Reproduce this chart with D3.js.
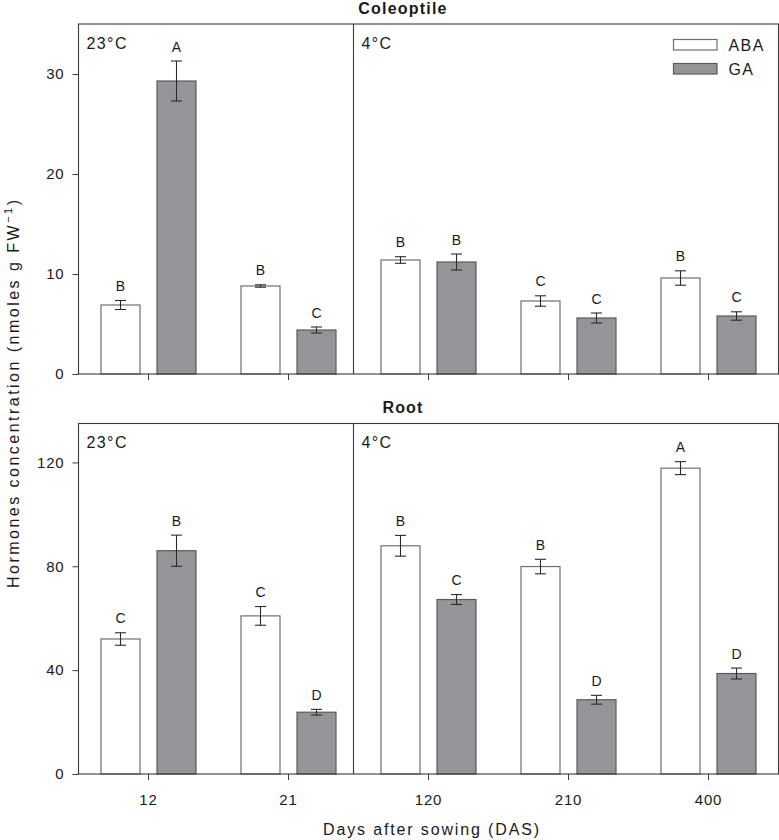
<!DOCTYPE html>
<html>
<head>
<meta charset="utf-8">
<script src="https://cdn.jsdelivr.net/npm/d3@7"></script>
<style>
  html, body { margin: 0; padding: 0; background: #fff; }
  svg { display: block; font-family: "Liberation Sans", Arial, sans-serif; }
</style>
</head>
<body>
<svg id="chart" width="779" height="840"></svg>
<script>
// ---------- data ----------
const categories = ["12", "21", "120", "210", "400"];
const seriesNames = ["ABA", "GA"];

const coleoptileABA    = [6.9, 8.8, 11.4, 7.3, 9.6];
const coleoptileABAerr = [0.45, 0.12, 0.33, 0.52, 0.72];
const coleoptileGA     = [29.3, 4.4, 11.2, 5.6, 5.8];
const coleoptileGAerr  = [2.0, 0.3, 0.8, 0.5, 0.42];
const coleoptileABAletters = ["B", "B", "B", "C", "B"];
const coleoptileGAletters  = ["A", "C", "B", "C", "C"];

const rootABA    = [52.0, 60.9, 87.9, 79.9, 117.8];
const rootABAerr = [2.4, 3.6, 4.0, 2.8, 2.5];
const rootGA     = [86.0, 23.8, 67.2, 28.6, 38.7];
const rootGAerr  = [6.0, 1.1, 1.9, 1.7, 2.1];
const rootABAletters = ["C", "C", "B", "B", "A"];
const rootGAletters  = ["B", "D", "C", "D", "D"];

const coleoptileTicks = [0, 10, 20, 30];
const rootTicks = [0, 40, 80, 120];
const tempLabels = ["23°C", "4°C"];

// ---------- layout ----------
const svg = d3.select("#chart");
const left = 78.5, right = 778.5;
const frameColor = "#3a3a3a";
const barStroke = "#6e6e6e";
const gaFill = "#939598";
const errColor = "#2a2a2a";

const x = d3.scaleBand().domain(categories).range([left, right]).padding(0);
const barW = 39, barOff = 28;
const dividerX = x("120") - 5;

function panel(cfg) {
  const y = d3.scaleLinear().domain(cfg.domain).range([cfg.bottom, cfg.top]);
  const g = svg.append("g");

  const rows = categories.map((c, i) => ({
    c,
    vals: [
      {s: "ABA", v: cfg.aba[i], e: cfg.abaErr[i], l: cfg.abaL[i], dx: -barOff},
      {s: "GA", v: cfg.ga[i], e: cfg.gaErr[i], l: cfg.gaL[i], dx: barOff}
    ]
  }));
  const flat = rows.flatMap(r => r.vals.map(v => Object.assign({c: r.c}, v)));
  const cx = d => x(d.c) + x.bandwidth() / 2 + d.dx;

  g.selectAll("rect.bar").data(flat).join("rect")
    .attr("class", "bar")
    .attr("x", d => cx(d) - barW / 2)
    .attr("y", d => y(d.v))
    .attr("width", barW)
    .attr("height", d => y(0) - y(d.v))
    .attr("fill", d => d.s === "ABA" ? "#ffffff" : gaFill)
    .attr("stroke", d => d.s === "ABA" ? barStroke : "#5a5a5a")
    .attr("stroke-width", 1.2);

  const eg = g.selectAll("g.err").data(flat).join("g").attr("class", "err")
    .attr("stroke", errColor).attr("stroke-width", 1.1);
  eg.append("line").attr("x1", cx).attr("x2", cx)
    .attr("y1", d => y(d.v + d.e)).attr("y2", d => y(d.v - d.e));
  eg.append("line").attr("x1", d => cx(d) - 5.5).attr("x2", d => cx(d) + 5.5)
    .attr("y1", d => y(d.v + d.e)).attr("y2", d => y(d.v + d.e));
  eg.append("line").attr("x1", d => cx(d) - 5.5).attr("x2", d => cx(d) + 5.5)
    .attr("y1", d => y(d.v - d.e)).attr("y2", d => y(d.v - d.e));

  g.selectAll("text.letter").data(flat).join("text")
    .attr("class", "letter")
    .attr("x", cx)
    .attr("y", d => y(d.v + d.e) - 9.5)
    .attr("text-anchor", "middle")
    .attr("font-size", 14)
    .attr("fill", "#1a1a1a")
    .text(d => d.l);

  g.append("rect").attr("x", left).attr("y", cfg.top)
    .attr("width", right - left).attr("height", cfg.bottom - cfg.top)
    .attr("fill", "none").attr("stroke", frameColor).attr("stroke-width", 1.1);
  g.append("line").attr("x1", dividerX).attr("x2", dividerX)
    .attr("y1", cfg.top).attr("y2", cfg.bottom)
    .attr("stroke", frameColor).attr("stroke-width", 1.1);

  const ya = d3.axisLeft(y).tickValues(cfg.ticks).tickSize(6).tickPadding(8).tickFormat(d3.format("d"));
  const yg = g.append("g").attr("transform", `translate(${left},0)`).call(ya);
  yg.select(".domain").remove();
  yg.selectAll("line").attr("stroke", frameColor);
  yg.selectAll("text").attr("font-size", 15).attr("font-family", "Liberation Sans, Arial, sans-serif")
    .attr("fill", "#1a1a1a").attr("letter-spacing", 0.8);

  const xa = d3.axisBottom(x).tickSize(6).tickPadding(14).tickFormat(cfg.showX ? (d => d) : (() => ""));
  const xg = g.append("g").attr("transform", `translate(0,${cfg.bottom})`).call(xa);
  xg.select(".domain").remove();
  xg.selectAll("line").attr("stroke", frameColor);
  xg.selectAll("text").attr("font-size", 15).attr("font-family", "Liberation Sans, Arial, sans-serif")
    .attr("fill", "#1a1a1a").attr("letter-spacing", 0.8);

  g.append("text").attr("x", left + 8).attr("y", cfg.top + 24.5)
    .attr("font-size", 16).attr("letter-spacing", 1.4).attr("fill", "#1a1a1a").text(tempLabels[0]);
  g.append("text").attr("x", dividerX + 8).attr("y", cfg.top + 24.5)
    .attr("font-size", 16).attr("letter-spacing", 1.4).attr("fill", "#1a1a1a").text(tempLabels[1]);

  svg.append("text").attr("x", 403).attr("y", cfg.titleY)
    .attr("text-anchor", "middle").attr("font-size", 16).attr("font-weight", "bold")
    .attr("letter-spacing", 1.2).attr("fill", "#1a1a1a").text(cfg.title);

  return y;
}

panel({
  title: "Coleoptile", titleY: 13.5, top: 24, bottom: 374, domain: [0, 35], ticks: coleoptileTicks,
  aba: coleoptileABA, abaErr: coleoptileABAerr, ga: coleoptileGA, gaErr: coleoptileGAerr,
  abaL: coleoptileABAletters, gaL: coleoptileGAletters, showX: false
});
panel({
  title: "Root", titleY: 413, top: 423.5, bottom: 774, domain: [0, 135], ticks: rootTicks,
  aba: rootABA, abaErr: rootABAerr, ga: rootGA, gaErr: rootGAerr,
  abaL: rootABAletters, gaL: rootGAletters, showX: true
});

const legend = svg.append("g");
seriesNames.forEach((s, i) => {
  const ly = 39.5 + i * 24;
  legend.append("rect").attr("x", 673.5).attr("y", ly).attr("width", 43.5).attr("height", 10.5)
    .attr("fill", s === "ABA" ? "#fff" : gaFill)
    .attr("stroke", s === "ABA" ? barStroke : "#5a5a5a").attr("stroke-width", 1.2);
  legend.append("text").attr("x", 728.5).attr("y", ly + 11.5)
    .attr("font-size", 16).attr("letter-spacing", 1.4).attr("fill", "#1a1a1a").text(s);
});

svg.append("text")
  .attr("transform", "translate(18.5,394) rotate(-90)")
  .attr("text-anchor", "middle").attr("font-size", 16).attr("fill", "#1a1a1a")
  .attr("textLength", 388).attr("lengthAdjust", "spacing")
  .call(t => {
    t.append("tspan").text("Hormones concentration (nmoles g FW");
    t.append("tspan").attr("dy", -7).attr("font-size", 11).text("−1");
    t.append("tspan").attr("dy", 7).text(")");
  });

svg.append("text").attr("x", 431).attr("y", 835)
  .attr("text-anchor", "middle").attr("font-size", 16).attr("fill", "#1a1a1a")
  .attr("textLength", 216).attr("lengthAdjust", "spacing")
  .text("Days after sowing (DAS)");
</script>
</body>
</html>
